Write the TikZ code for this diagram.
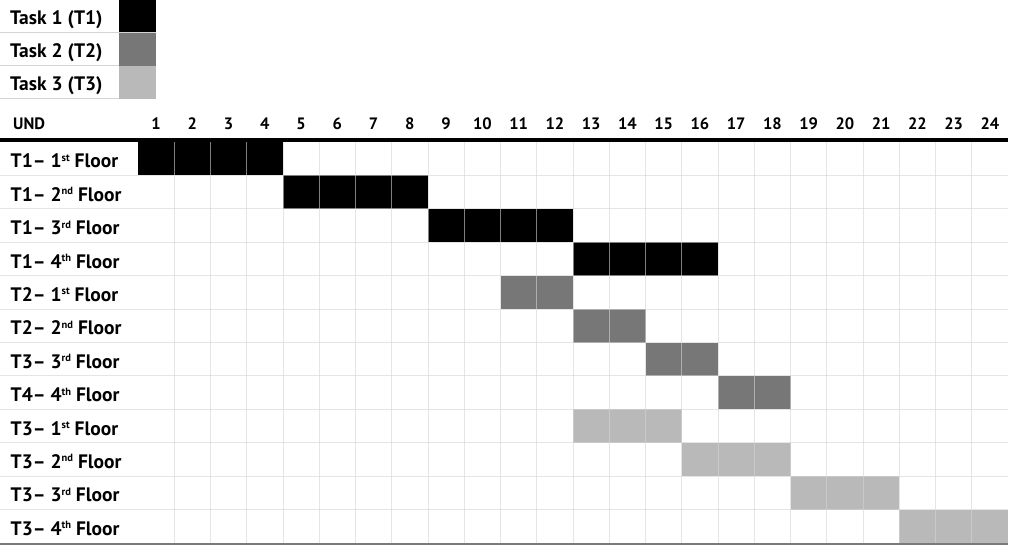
\documentclass[tikz,border=0pt]{standalone}
\usepackage{fontspec}
\setmainfont{PT Sans}
\definecolor{toneA}{HTML}{000000}
\definecolor{toneB}{HTML}{777777}
\definecolor{toneC}{HTML}{B9B9B9}
\definecolor{gridc}{HTML}{D4D4D4}
\definecolor{basec}{HTML}{7A7A7A}
\newcommand{\ordsup}[1]{\raisebox{0.34em}{\fontsize{10.5}{10.5}\selectfont #1}}
\begin{document}
\begin{tikzpicture}[x=1pt,y=-1pt,
  lbl/.style={anchor=base west,inner sep=0pt,font=\bfseries\fontsize{19.5}{19.5}\selectfont},
  hdr/.style={anchor=base,inner sep=0pt,font=\bfseries\fontsize{16.5}{16.5}\selectfont},
  gridline/.style={draw=gridc,opacity=0.6,line width=1pt},
  legbox/.style={minimum width=37pt,minimum height=33pt,inner sep=0pt,draw=none}]
\useasboundingbox (0,0) rectangle (1010,546);
\def\cw{36.25}
\def\rh{33.4167}
% legend
\draw[gridc,line width=1pt] (0,32.5) -- (156,32.5) (0,65.5) -- (156,65.5) (0,98.5) -- (156,98.5);
\node[legbox,fill=toneA,anchor=north west,minimum height=32pt] (k1) at (119,0) {};
\node[legbox,fill=toneB,anchor=north west] (k2) at (119,33) {};
\node[legbox,fill=toneC,anchor=north west] (k3) at (119,66) {};
\node[lbl] (l1) at (10,24.5) {Task 1 (T1)};
\node[lbl] (l2) at (10,57.5) {Task 2 (T2)};
\node[lbl] (l3) at (10,90.5) {Task 3 (T3)};
% header
\node[hdr,anchor=base west] (und) at (13,129) {UND};
\foreach \c in {1,...,24}{
  \node[hdr] (h\c) at ({138+(\c-0.5)*\cw},129) {\c};
}
% filled cells: row, first col, last col, colour
\foreach \r/\a/\b/\col in {1/1/4/toneA,2/5/8/toneA,3/9/12/toneA,4/13/16/toneA,
  5/11/12/toneB,6/13/14/toneB,7/15/16/toneB,8/17/18/toneB,
  9/13/15/toneC,10/16/18/toneC,11/19/21/toneC,12/22/24/toneC}{
  \fill[\col] ({138+(\a-1)*\cw},{142+(\r-1)*\rh}) rectangle ({138+\b*\cw},{142+\r*\rh});
}
% grid
\foreach \c in {1,...,23}{
  \draw[gridline] ({138+\c*\cw},142) -- ({138+\c*\cw},543);
}
\foreach \r in {1,...,11}{
  \draw[gridline] (0,{142+\r*\rh}) -- (1008,{142+\r*\rh});
}
\draw[black,line width=3.5pt] (0,140) -- (1008,140);
\draw[basec,line width=2pt] (0,543.5) -- (1008,543.5);
% row labels
\foreach \r/\t/\n/\s in {1/1/1/st,2/1/2/nd,3/1/3/rd,4/1/4/th,5/2/1/st,6/2/2/nd,
  7/3/3/rd,8/4/4/th,9/3/1/st,10/3/2/nd,11/3/3/rd,12/3/4/th}{
  \node[lbl] (r\r) at (10.5,{142+(\r-1)*\rh+25.8}) {T\t{}– \n\ordsup{\s} Floor};
}
\end{tikzpicture}
\end{document}
